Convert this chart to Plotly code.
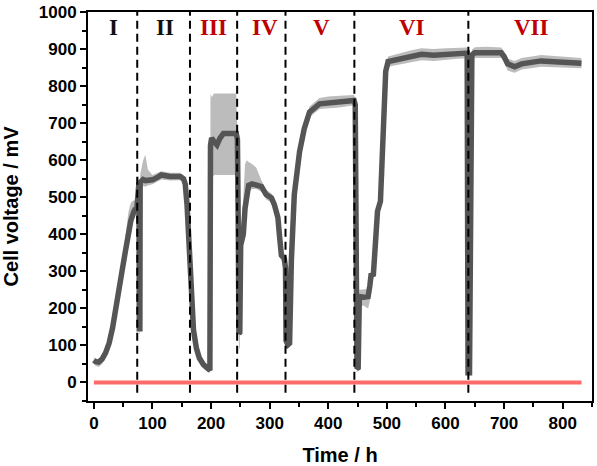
import plotly.graph_objects as go

# ---- data ----
time = [0, 3, 8, 14, 20, 26, 32, 38, 43, 48, 54, 59, 63, 68, 71, 73, 75, 77, 77.5, 78.5, 79,
        84, 88, 92, 100, 110, 115, 130, 147, 153, 156, 159, 164, 170, 175, 180, 187, 195, 198,
        199, 201, 205, 210, 215, 221, 243, 245, 246.5, 247.5, 249,
        250.5, 255, 258, 261, 264, 270, 277, 286, 294, 303, 308, 314, 317, 320, 325, 327, 328, 331,
        334, 337, 342, 351, 359, 368, 385, 400, 419, 444, 446, 447.5, 449, 451,
        453, 460, 468, 471, 473, 477, 480, 484, 489, 495, 498, 502, 520, 540, 559, 580, 600, 620,
        637, 638.5, 641, 645,
        650, 670, 695, 700, 706, 718, 730, 763, 800, 832]
voltage = [60, 56, 55, 63, 80, 106, 148, 198, 248, 300, 356, 405, 436, 460, 470, 462, 530, 540, 145, 145, 540,
           548, 545, 545, 547, 555, 560, 556, 556, 550, 535, 480, 302, 142, 92, 66, 48, 35, 33,
           640, 660, 650, 641, 659, 672, 672, 655, 400, 132, 135,
           370, 400, 470, 520, 532, 536, 534, 529, 507, 498, 480, 445, 392, 343, 334, 309, 113, 102,
           106, 329, 507, 623, 685, 730, 752, 754, 757, 761, 750, 60, 38, 40,
           232, 230, 232, 262, 290, 292, 400, 462, 489, 775, 840, 866, 872, 878, 886, 883, 885, 888,
           889, 26, 26, 884,
           890, 890, 890, 880, 860, 852, 860, 868, 865, 862]
band_high = [68, 64, 63, 72, 90, 118, 162, 214, 266, 320, 395, 460, 485, 492, 490, 480, 545, 560, 160, 160, 560,
             600, 615, 575, 560, 566, 570, 566, 566, 560, 545, 490, 315, 155, 104, 78, 58, 45, 42,
             780, 770, 780, 780, 780, 780, 780, 670, 420, 150, 150,
             390, 500, 590, 600, 595, 590, 580, 545, 520, 510, 492, 458, 405, 356, 348, 322, 130, 118,
             120, 345, 525, 645, 700, 745, 768, 772, 774, 776, 762, 75, 50, 52,
             250, 250, 252, 290, 300, 302, 415, 475, 500, 790, 855, 880, 888, 896, 902, 900, 902, 904,
             904, 40, 40, 898,
             905, 906, 904, 894, 874, 868, 876, 884, 880, 876]
band_low = [52, 45, 42, 50, 68, 94, 135, 184, 234, 286, 342, 390, 422, 446, 455, 440, 500, 520, 130, 130, 520,
            530, 528, 532, 535, 544, 548, 545, 546, 540, 520, 465, 290, 130, 80, 55, 38, 27, 26,
            540, 550, 560, 560, 560, 560, 560, 620, 380, 88, 95,
            340, 380, 450, 500, 515, 522, 522, 515, 494, 486, 468, 430, 378, 330, 300, 290, 95, 92,
            95, 315, 490, 605, 670, 716, 738, 740, 742, 748, 738, 45, 28, 30,
            205, 208, 200, 220, 270, 280, 385, 450, 475, 760, 825, 852, 858, 864, 870, 868, 870, 874,
            875, 18, 18, 868,
            876, 876, 876, 866, 842, 836, 845, 852, 850, 848]

baseline_time = [0, 832]
baseline_voltage = [0, 0]

stage_bounds = [74, 164, 244.5, 327, 444.5, 639]
stage_names = ["I", "II", "III", "IV", "V", "VI", "VII"]
stage_label_x = [34, 122, 204, 292, 388, 543, 746]
stage_colors = ["#111111", "#111111", "#c00000", "#c00000", "#c00000", "#c00000", "#c00000"]

x_ticks = [0, 100, 200, 300, 400, 500, 600, 700, 800]
y_ticks = [0, 100, 200, 300, 400, 500, 600, 700, 800, 900, 1000]

fig = go.Figure()

# light noise envelope
fig.add_trace(go.Scatter(
    x=time + time[::-1], y=band_high + band_low[::-1],
    fill="toself", fillcolor="#bcbcbc", line=dict(width=0),
    mode="lines", hoverinfo="skip", showlegend=False))

# main averaged trace
fig.add_trace(go.Scatter(
    x=time, y=voltage, mode="lines",
    line=dict(color="#555555", width=5.5), showlegend=False))

# open-circuit baseline
fig.add_trace(go.Scatter(
    x=baseline_time, y=baseline_voltage, mode="lines",
    line=dict(color="#ff6b6b", width=4), showlegend=False))

for b in stage_bounds:
    fig.add_shape(type="line", x0=b, x1=b, y0=-28, y1=1000, xref="x", yref="y",
                  line=dict(color="black", width=2, dash="8px,5px"), layer="above")

for name, xl, col in zip(stage_names, stage_label_x, stage_colors):
    fig.add_annotation(x=xl, y=958, text=name, showarrow=False,
                       font=dict(family="Liberation Serif, Times New Roman, serif", size=23,
                                 color=col, weight="bold"))

axis_font = dict(family="Liberation Sans, Arial, sans-serif", size=17, color="black", weight="bold")
title_font = dict(family="Liberation Sans, Arial, sans-serif", size=20, color="black", weight="bold")

fig.update_xaxes(range=[-10, 850], tickvals=x_ticks, ticks="outside", ticklen=6, tickwidth=2,
                 tickcolor="black", showline=True, linewidth=2, linecolor="black", mirror=True,
                 showgrid=False, zeroline=False, tickfont=axis_font,
                 minor=dict(ticks="outside", ticklen=4, tickwidth=2, dtick=50, tick0=0,
                            tickcolor="black", showgrid=False),
                 title=dict(text="Time / h", font=title_font, standoff=16))
fig.update_yaxes(range=[-50, 1000], tickvals=y_ticks, ticks="outside", ticklen=6, tickwidth=2,
                 tickcolor="black", showline=True, linewidth=2, linecolor="black", mirror=True,
                 showgrid=False, zeroline=False, tickfont=axis_font, ticklabeloverflow="allow",
                 minor=dict(ticks="outside", ticklen=4, tickwidth=2, dtick=50, tick0=0,
                            tickcolor="black", showgrid=False),
                 title=dict(text="Cell voltage / mV", font=title_font, standoff=20))

fig.update_layout(width=597, height=466, margin=dict(l=88, r=3, t=9, b=64),
                  plot_bgcolor="white", paper_bgcolor="white", showlegend=False)

fig.write_html("out.html")
